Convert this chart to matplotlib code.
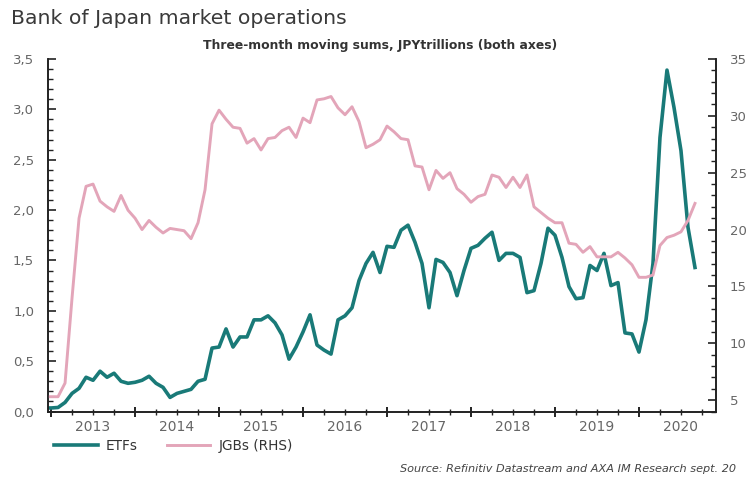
import numpy as np
import matplotlib
matplotlib.use("Agg")
import matplotlib.pyplot as plt
from matplotlib.ticker import MultipleLocator, FuncFormatter
import matplotlib.transforms as mtransforms

# Monthly data, Dec 2012 .. Sep 2020 (three-month moving sums, JPY trillions)
start_year = 2012
start_month = 12
etfs = [0.035, 0.035, 0.04, 0.09, 0.18, 0.23, 0.34, 0.31, 0.40, 0.34, 0.38, 0.30, 0.28,   # Dec12-Dec13
        0.29, 0.31, 0.35, 0.28, 0.24, 0.14, 0.18, 0.20, 0.22, 0.30, 0.32, 0.63,           # 2014
        0.64, 0.82, 0.64, 0.74, 0.74, 0.91, 0.91, 0.95, 0.88, 0.76, 0.52, 0.64,           # 2015
        0.79, 0.96, 0.66, 0.61, 0.57, 0.91, 0.95, 1.03, 1.30, 1.47, 1.58, 1.38,           # 2016
        1.64, 1.63, 1.80, 1.85, 1.68, 1.47, 1.03, 1.51, 1.48, 1.38, 1.15, 1.40,           # 2017
        1.62, 1.65, 1.72, 1.78, 1.50, 1.57, 1.57, 1.53, 1.18, 1.20, 1.47, 1.82,           # 2018
        1.75, 1.53, 1.24, 1.12, 1.13, 1.45, 1.40, 1.57, 1.25, 1.28, 0.78, 0.77,           # 2019
        0.59, 0.91, 1.47, 2.72, 3.39, 3.02, 2.59, 1.83, 1.43]                             # 2020
jgbs = [5.3, 5.3, 5.3, 6.5, 14.0, 21.0, 23.8, 24.0, 22.5, 22.0, 21.6, 23.0, 21.7,         # Dec12-Dec13
        21.0, 20.0, 20.8, 20.2, 19.7, 20.1, 20.0, 19.9, 19.2, 20.6, 23.5, 29.3,           # 2014
        30.5, 29.7, 29.0, 28.9, 27.6, 28.0, 27.0, 28.0, 28.1, 28.7, 29.0, 28.1,           # 2015
        29.8, 29.4, 31.4, 31.5, 31.7, 30.7, 30.1, 30.8, 29.5, 27.2, 27.5, 27.9,           # 2016
        29.1, 28.6, 28.0, 27.9, 25.6, 25.5, 23.5, 25.2, 24.5, 25.0, 23.6, 23.1,           # 2017
        22.4, 22.9, 23.1, 24.8, 24.6, 23.7, 24.6, 23.7, 24.8, 22.0, 21.5, 21.0,           # 2018
        20.6, 20.6, 18.8, 18.7, 18.0, 18.5, 17.6, 17.6, 17.6, 18.0, 17.5, 16.9,           # 2019
        15.8, 15.8, 16.0, 18.6, 19.3, 19.5, 19.8, 20.8, 22.3]                             # 2020
years = [2013, 2014, 2015, 2016, 2017, 2018, 2019, 2020]
series_labels = ["ETFs", "JGBs (RHS)"]

t = start_year + (start_month - 1) / 12 + np.arange(len(etfs)) / 12

TEAL = "#197a78"
PINK = "#e3a5b9"
TICKC = "#666666"

fig = plt.figure(figsize=(7.5, 4.84), dpi=100)
ax = fig.add_axes([48 / 750, 1 - 411.5 / 484, (716 - 48) / 750, (411.5 - 59) / 484])
ax2 = ax.twinx()

l1, = ax.plot(t, etfs, color=TEAL, lw=2.6, solid_joinstyle="round")
l2, = ax2.plot(t, jgbs, color=PINK, lw=2.1, solid_joinstyle="round")

ax.set_xlim(2012 + 11 / 12 + 0.047, 2020.917)
ax.set_ylim(0, 3.5)
ax2.set_ylim(4, 35)

for a in (ax, ax2):
    a.spines["top"].set_visible(False)
    for s in ("left", "right", "bottom"):
        a.spines[s].set_color("#222222")
        a.spines[s].set_linewidth(1.2)

ax.yaxis.set_major_locator(MultipleLocator(0.5))
ax.yaxis.set_minor_locator(MultipleLocator(0.1))
ax.yaxis.set_major_formatter(FuncFormatter(lambda v, p: f"{v:.1f}".replace(".", ",")))
ax2.yaxis.set_major_locator(MultipleLocator(5))
ax2.yaxis.set_minor_locator(MultipleLocator(1))
ax2.yaxis.set_major_formatter(FuncFormatter(lambda v, p: f"{v:.0f}"))

ax.tick_params(axis="y", which="major", direction="in", length=6, width=1.2, color="#222222",
               labelsize=9.5, labelcolor=TICKC, pad=10)
ax.tick_params(axis="y", which="minor", direction="in", length=3.5, width=1.0, color="#222222")
ax2.tick_params(axis="y", which="major", direction="in", length=6, width=1.2, color="#222222",
                labelsize=9.5, labelcolor=TICKC, pad=10)
ax2.tick_params(axis="y", which="minor", direction="in", length=3.5, width=1.0, color="#222222")

ax.set_xticks(years)
ax.set_xticklabels([])
ax.xaxis.set_minor_locator(MultipleLocator(0.25))
ax.tick_params(axis="x", which="major", direction="inout", length=7, width=1.4, color="#222222")
ax.tick_params(axis="x", which="minor", direction="inout", length=4, width=1.0, color="#222222")

trans = mtransforms.blended_transform_factory(ax.transData, ax.transAxes)
for y in years:
    ax.text(y + 0.5, -0.045, str(y), transform=trans, ha="center", va="center",
            fontsize=10, color=TICKC)

fig.text(11 / 750, 1 - 18 / 484, "Bank of Japan market operations", fontsize=14.7,
         color="#3a3a3a", ha="left", va="center")
fig.text(380 / 750, 1 - 46 / 484, "Three-month moving sums, JPYtrillions (both axes)",
         fontsize=8.9, fontweight="bold", color="#333333", ha="center", va="center")
fig.text(736 / 750, 1 - 469 / 484, "Source: Refinitiv Datastream and AXA IM Research sept. 20",
         fontsize=8.1, style="italic", color="#444444", ha="right", va="center")

leg = fig.legend([l1, l2], series_labels, loc="center left", bbox_to_anchor=(42 / 750, 1 - 446 / 484),
                 ncol=2, frameon=False, fontsize=9.8, handlelength=3.2, columnspacing=2.1,
                 handletextpad=0.6)
for txt in leg.get_texts():
    txt.set_color("#333333")

fig.savefig("out.png", dpi=100)
